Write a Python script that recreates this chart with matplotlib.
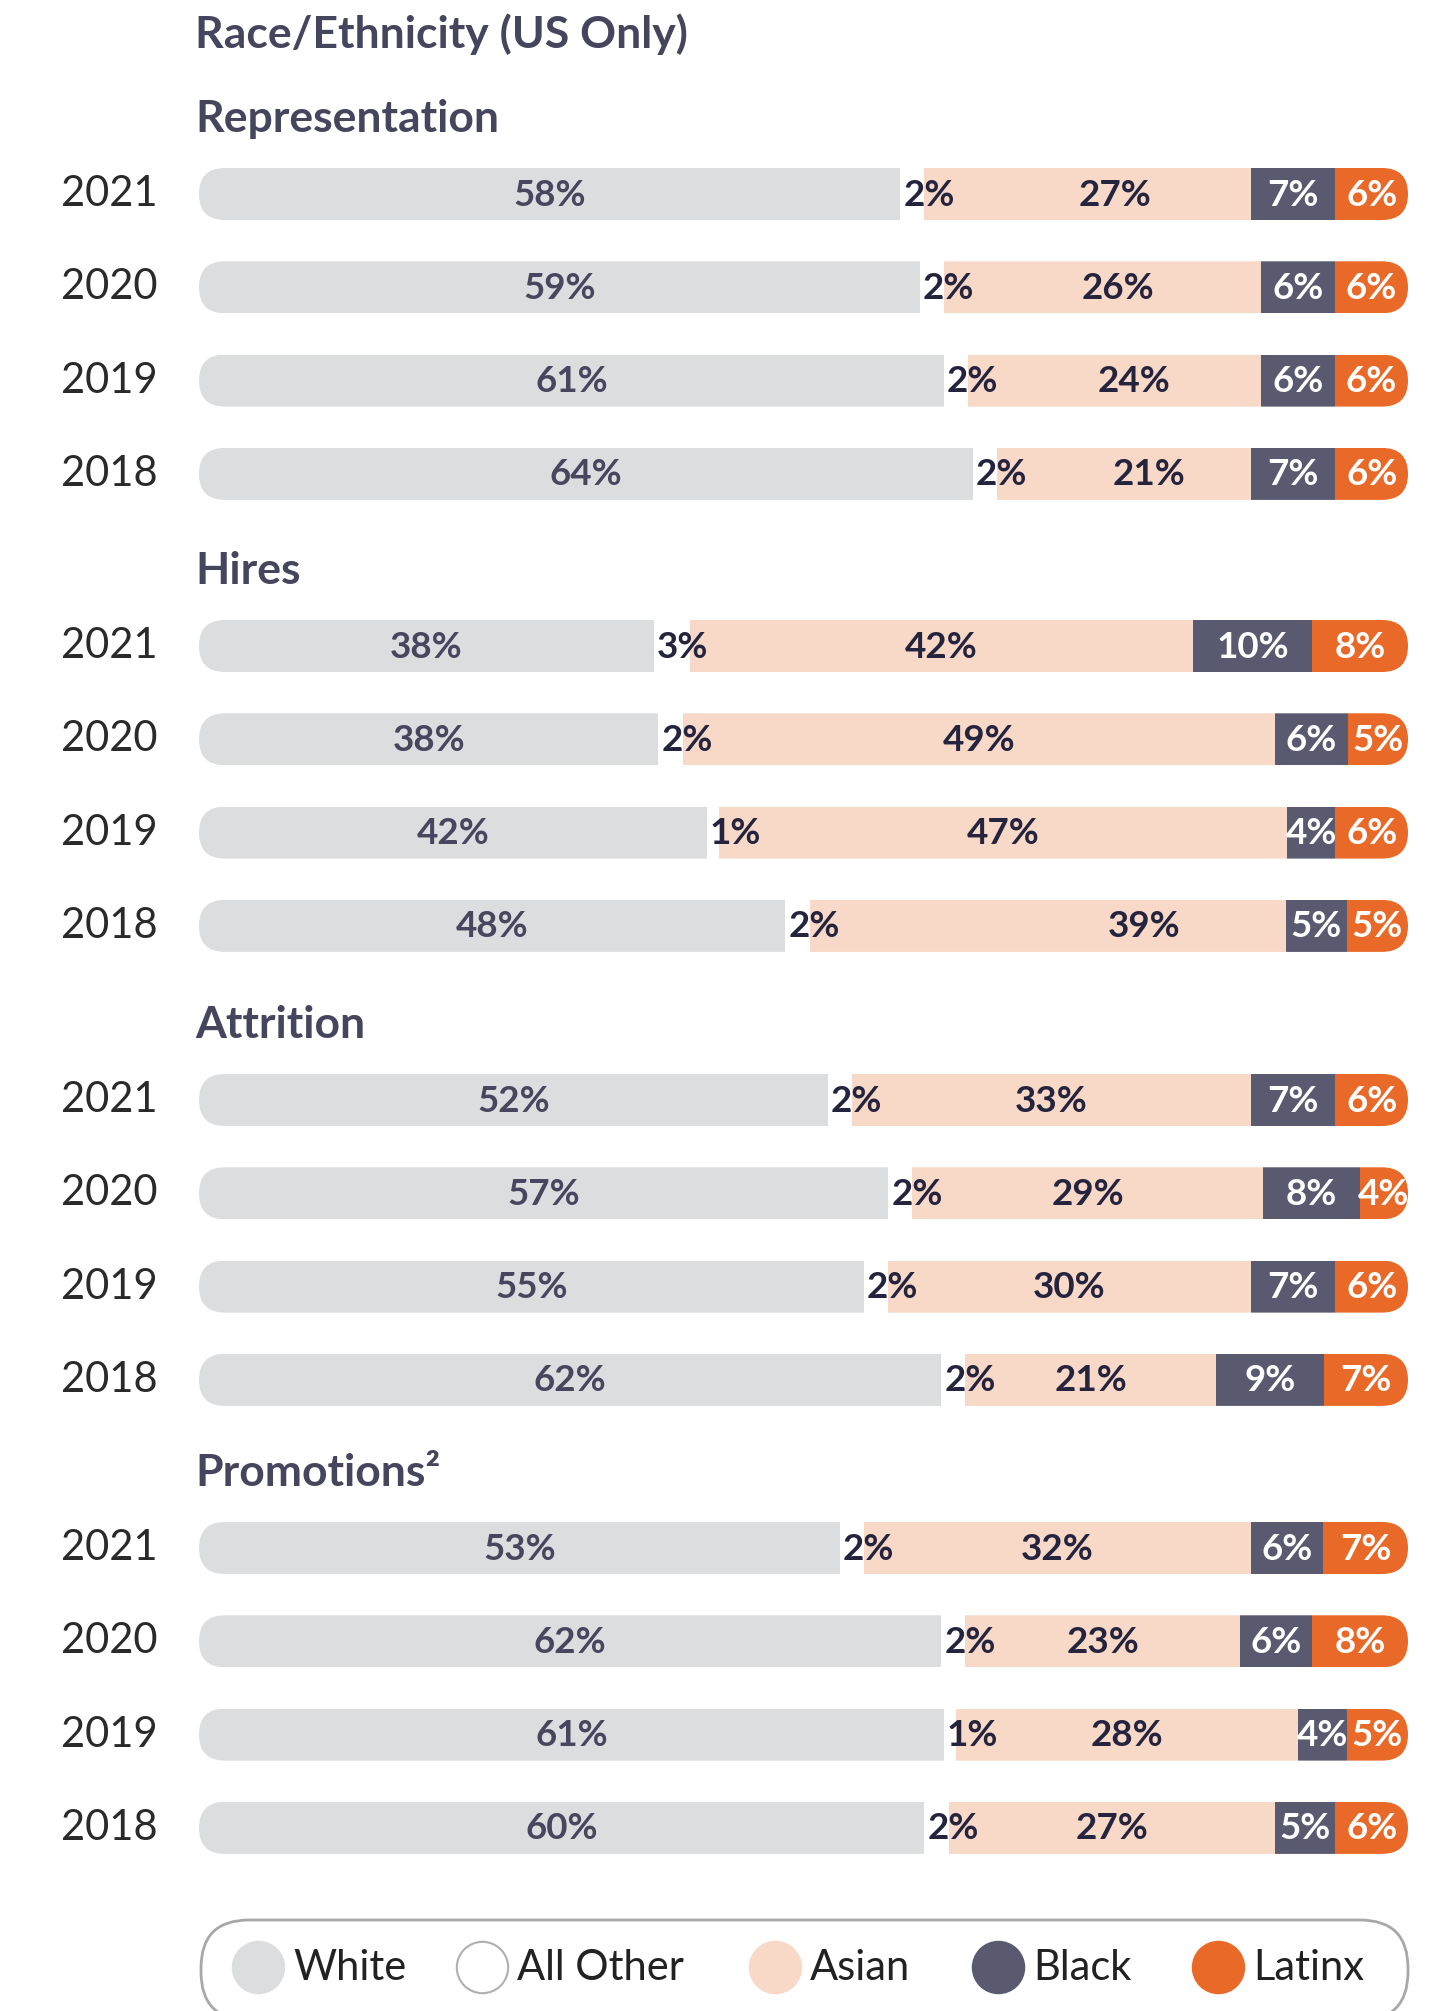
import matplotlib.pyplot as plt
import numpy as np
from matplotlib.patches import FancyBboxPatch

plt.rcParams['font.family'] = ['Lato', 'DejaVu Sans']

# data (section order, then years 2021 -> 2018)
sections = ['Representation', 'Hires', 'Attrition', 'Promotions\u00b2']
years = ['2021', '2020', '2019', '2018']
groups = ['White', 'All Other', 'Asian', 'Black', 'Latinx']

white     = [58, 59, 61, 64, 38, 38, 42, 48, 52, 57, 55, 62, 53, 62, 61, 60]
all_other = [2, 2, 2, 2, 3, 2, 1, 2, 2, 2, 2, 2, 2, 2, 1, 2]
asian     = [27, 26, 24, 21, 42, 49, 47, 39, 33, 29, 30, 21, 32, 23, 28, 27]
black     = [7, 6, 6, 7, 10, 6, 4, 5, 7, 8, 7, 9, 6, 6, 4, 5]
latinx    = [6, 6, 6, 6, 8, 5, 6, 5, 6, 4, 6, 7, 7, 8, 5, 6]

colors = ['#dcdddf', '#ffffff', '#f8d8c6', '#595a70', '#e96a28']
label_colors = ['#46465f', '#25243f', '#25243f', '#ffffff', '#ffffff']

# layout (pixels of the 1435x2011 canvas)
W, H = 1435, 2011
x0, x1 = 199, 1408
sec_base = [194, 646, 1100, 1548]
row_pitch = 93.3
bar_h = 52
# nudge of the Asian labels off the segment centre, as in the original
asian_shift = [2.3, 1.3, 1.6, 2.1, 0, 0, 0, 8, 0, 0, 0, 0, 0, 0, 0, 0]
leg_marker_x = [258, 482, 775, 998, 1218]

fig = plt.figure(figsize=(W / 100, H / 100), dpi=100)
ax = fig.add_axes([x0 / W, 0, (x1 - x0) / W, 1])
ax.set_xlim(0, 100)
ax.set_ylim(H, 0)
ax.axis('off')

px = 100 / (x1 - x0)          # x units per pixel

vals = np.array([white, all_other, asian, black, latinx], dtype=float)
shares = vals / vals.sum(axis=0) * 100

ax.text(-0.3, 34, 'Race/Ethnicity (US Only)', fontsize=32, fontweight='bold',
        color='#45455e', va='center', ha='left')

for s, sec in enumerate(sections):
    ybase = sec_base[s]
    ax.text(-0.3, ybase - 75, sec, fontsize=32, fontweight='bold',
            color='#45455e', va='center', ha='left')
    for r, yr in enumerate(years):
        i = s * 4 + r
        y = ybase + r * row_pitch
        ax.text(-3.4, y, yr, fontsize=30, color='#2a2a2a',
                va='center', ha='right')
        clip = FancyBboxPatch((0, y - bar_h / 2), 100, bar_h,
                              boxstyle='round,pad=0,rounding_size=%f' % (bar_h / 2 * px),
                              mutation_aspect=1 / px, transform=ax.transData)
        left = 0
        for g in range(5):
            w = shares[g, i]
            bars = ax.barh(y, w, left=left, height=bar_h, color=colors[g],
                           linewidth=0)
            for b in bars:
                b.set_clip_path(clip)
            lab = '%d%%' % vals[g, i]
            if g == 1:
                ax.text(left + 0.25, y + 1, lab, fontsize=26.5, fontweight='bold',
                        color=label_colors[g], va='center', ha='left')
            else:
                xc = left + w / 2 + (asian_shift[i] if g == 2 else 0)
                ax.text(xc, y + 1, lab, fontsize=26.5, fontweight='bold',
                        color=label_colors[g], va='center', ha='center')
            left += w

# legend box, cut by the bottom edge like the original
leg_y = 1967
box = FancyBboxPatch((2 * px, 1920), 100 - 2 * px, 100,
                     boxstyle='round,pad=0,rounding_size=%f' % (48 * px),
                     mutation_aspect=1 / px, transform=ax.transData,
                     facecolor='white', edgecolor='#a8a8a8', linewidth=2,
                     clip_on=False)
ax.add_patch(box)
for g, name in enumerate(groups):
    mx = (leg_marker_x[g] - x0) * px
    ax.scatter(mx, leg_y, s=37 ** 2, color=colors[g],
               edgecolors='#b0b0b0' if g == 1 else colors[g], linewidths=1.5,
               zorder=3, clip_on=False)
    ax.text(mx + 2.9, leg_y + 1, name, fontsize=30, color='#222222',
            va='center', ha='left')

fig.savefig('out.png', dpi=100)
